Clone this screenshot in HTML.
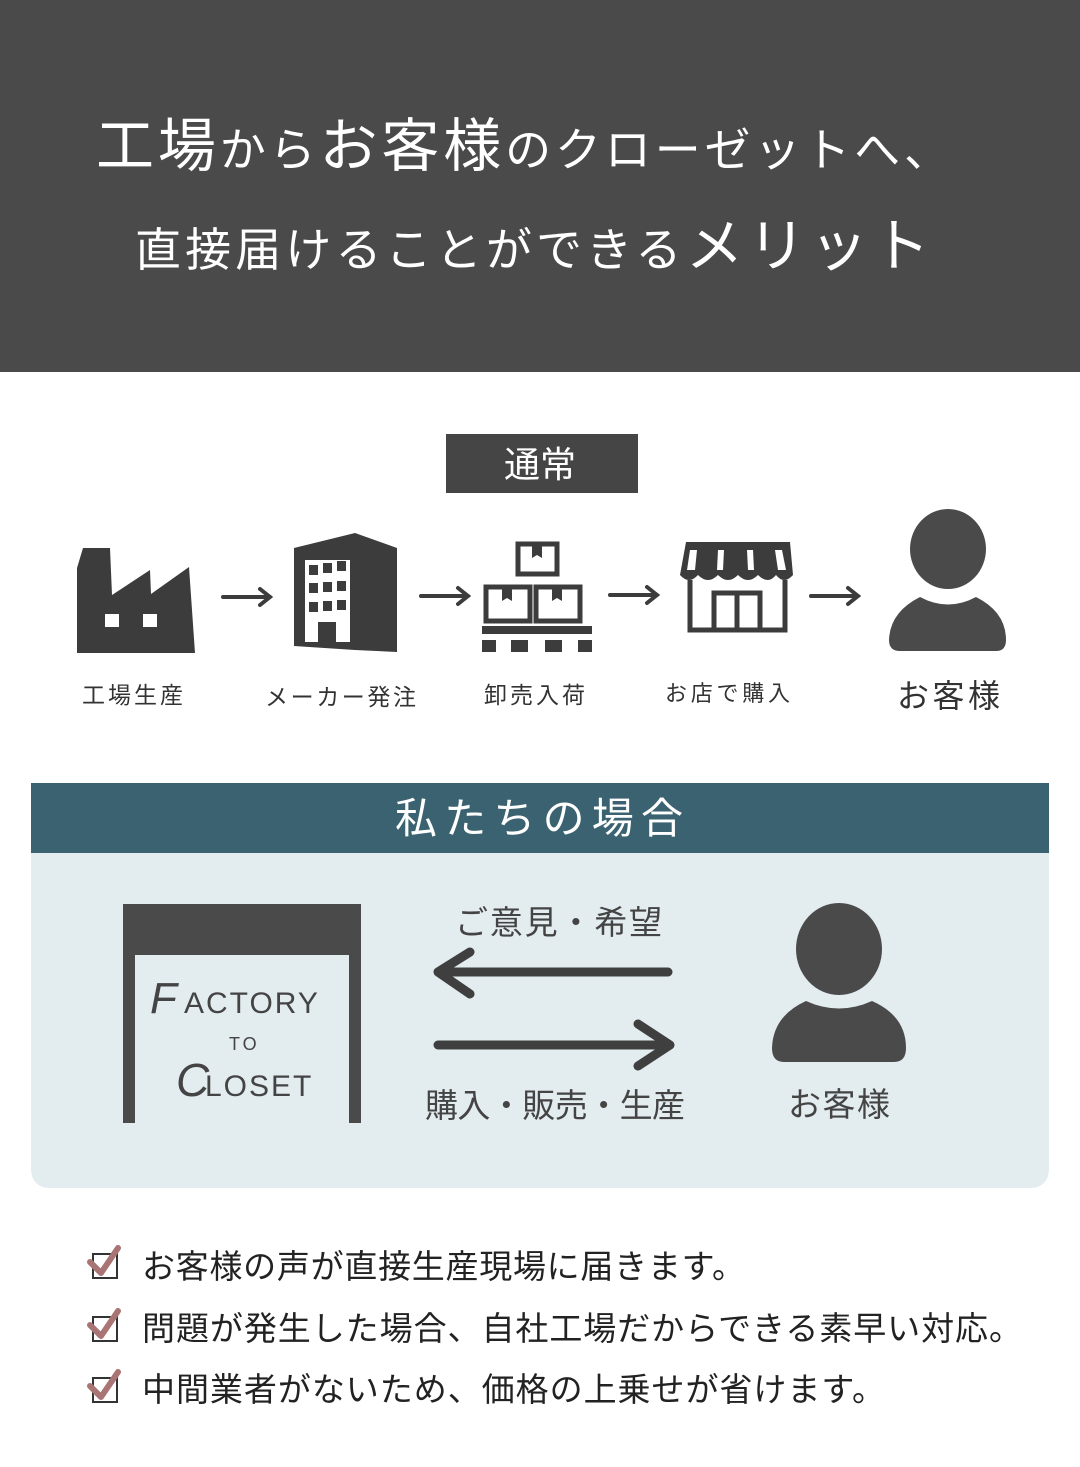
<!DOCTYPE html>
<html><head><meta charset="utf-8"><style>
html,body{margin:0;padding:0;background:#fff}
svg{display:block}
text{font-family:"Liberation Sans","Noto Sans CJK JP",sans-serif}
</style></head><body>
<svg width="1080" height="1467" viewBox="0 0 1080 1467" xmlns="http://www.w3.org/2000/svg">
<rect x="0" y="0" width="1080" height="372" fill="#4a4a4a"/>
<text x="96" y="166" fill="#fff" font-size="46" textLength="854" lengthAdjust="spacing"><tspan font-size="58">工場</tspan>から<tspan font-size="58">お客様</tspan>のクローゼットへ、</text>
<text x="135" y="266" fill="#fff" font-size="46" textLength="795" lengthAdjust="spacing">直接届けることができる<tspan font-size="58">メリット</tspan></text>

<rect x="446" y="434" width="192" height="59" fill="#454545"/>
<text x="540" y="477" fill="#fff" font-size="36" text-anchor="middle">通常</text>

<path d="M77 653 L77 568 L83 548 L110 548 L112 595 L150 570 L151 594 L189 567 L195 653 Z" fill="#3c3c3c"/>
<rect x="105" y="614" width="14" height="13" fill="#fff"/><rect x="143" y="614" width="14" height="13" fill="#fff"/>
<path d="M294 548 L355 533 L397 548 L397 652 L355 650 L294 646 Z" fill="#3c3c3c"/>
<rect x="305" y="560" width="45" height="82" fill="#fff"/>
<g fill="#3c3c3c"><rect x="309" y="565" width="9" height="10"/><rect x="323" y="563" width="9" height="10"/><rect x="337" y="561" width="9" height="10"/>
<rect x="309" y="583" width="9" height="10"/><rect x="323" y="582" width="9" height="10"/><rect x="337" y="581" width="9" height="10"/>
<rect x="309" y="602" width="9" height="10"/><rect x="323" y="601" width="9" height="10"/><rect x="337" y="600" width="9" height="10"/>
<rect x="318" y="622" width="18" height="22"/></g>
<g fill="none" stroke="#3c3c3c" stroke-width="5">
<rect x="518" y="544" width="39" height="30"/><rect x="486" y="587" width="44" height="34"/><rect x="536" y="587" width="44" height="34"/></g>
<g fill="#3c3c3c"><path d="M532 544h10v14l-5-3-5 3z"/><path d="M502 587h10v14l-5-3-5 3z"/><path d="M552 587h10v14l-5-3-5 3z"/>
<rect x="482" y="626" width="110" height="8"/><rect x="482" y="640" width="14" height="12"/><rect x="511" y="640" width="17" height="12"/><rect x="545" y="640" width="17" height="12"/><rect x="578" y="640" width="14" height="12"/></g>
<g fill="#3c3c3c"><path d="M686 542 L790 542 L793 575 Q784 585 776 575 Q768 585 758 575 Q748 585 738 575 Q728 585 718 575 Q708 585 698 575 Q689 585 680 575 Z"/></g>
<g fill="#fff"><path d="M690 550h7l-2 20h-8z"/><path d="M718 550h6l-1 20h-6z"/><path d="M747 550h6l1 20h-6z"/><path d="M775 550h7l4 20h-8z"/></g>
<g fill="none" stroke="#3c3c3c" stroke-width="5"><path d="M690 580 V630 H785 V580"/><rect x="714" y="593" width="46" height="37"/><path d="M737 593 V630"/></g>
<g fill="#4a4a4a"><ellipse cx="948" cy="549" rx="38" ry="40"/>
<path d="M920 597 Q948 612 976 597 Q1006 612 1006 640 Q1006 651 996 651 L900 651 Q889 651 889 640 Q890 612 920 597 Z"/></g>
<g stroke="#3c3c3c" stroke-width="4" fill="none" stroke-linecap="round">
<path d="M223 597 H270 M260 589 L270 597 L260 605"/>
<path d="M421 596 H468 M458 588 L468 596 L458 604"/>
<path d="M610 595 H657 M647 587 L657 595 L647 603"/>
<path d="M811 596 H858 M848 588 L858 596 L848 604"/></g>
<g fill="#333" font-size="23">
<text x="82" y="703" textLength="101" lengthAdjust="spacing">工場生産</text>
<text x="265" y="705" textLength="151" lengthAdjust="spacing">メーカー発注</text>
<text x="484" y="703" textLength="101" lengthAdjust="spacing">卸売入荷</text>
<text x="665" y="701" font-size="22" textLength="125" lengthAdjust="spacing">お店で購入</text>
<text x="897" y="707" font-size="32" textLength="103" lengthAdjust="spacing">お客様</text></g>

<path d="M31 853 H1049 V1168 Q1049 1188 1029 1188 H51 Q31 1188 31 1168 Z" fill="#e3ecef"/>
<rect x="31" y="783" width="1018" height="70" fill="#3b6270"/>
<text x="395" y="833" fill="#fff" font-size="42" textLength="288" lengthAdjust="spacing">私たちの場合</text>
<g fill="#4a4a4a"><rect x="123" y="904" width="238" height="51"/><rect x="123" y="904" width="12" height="219"/><rect x="349" y="904" width="12" height="219"/></g>
<g fill="#444" font-family="Liberation Serif, serif">
<text x="150" y="1013" font-size="44" font-style="italic">F</text><text x="184" y="1013" font-size="30" font-family="Liberation Sans" letter-spacing="2">ACTORY</text>
<text x="229" y="1050" font-size="18" font-family="Liberation Sans" letter-spacing="3">TO</text>
<text x="176" y="1096" font-size="46" font-style="italic">C</text><text x="205" y="1096" font-size="30" font-family="Liberation Sans" letter-spacing="2">LOSET</text></g>
<g stroke="#3f3f3f" stroke-width="9" fill="none" stroke-linecap="round" stroke-linejoin="round">
<path d="M668 972 H440 M470 952 L438 972 L470 994"/>
<path d="M438 1045 H668 M638 1024 L670 1045 L638 1066"/></g>
<g fill="#444" font-size="33">
<text x="455" y="934" textLength="207" lengthAdjust="spacing">ご意見・希望</text>
<text x="425" y="1117" textLength="260" lengthAdjust="spacing">購入・販売・生産</text>
<text x="788" y="1116" textLength="102" lengthAdjust="spacing">お客様</text></g>
<g fill="#4a4a4a"><ellipse cx="839" cy="949" rx="43" ry="46"/>
<path d="M806 1001 Q839 1016 872 1001 Q906 1016 906 1048 Q906 1062 894 1062 L784 1062 Q772 1062 772 1048 Q773 1016 806 1001 Z"/></g>

<g font-size="33" fill="#222">
<text x="142" y="1278" textLength="603" lengthAdjust="spacing">お客様の声が直接生産現場に届きます。</text>
<text x="142" y="1340" textLength="880" lengthAdjust="spacing">問題が発生した場合、自社工場だからできる素早い対応。</text>
<text x="142" y="1401" textLength="743" lengthAdjust="spacing">中間業者がないため、価格の上乗せが省けます。</text></g>
<g>
<rect x="93" y="1254" width="24" height="24" fill="none" stroke="#333" stroke-width="2"/>
<path d="M90 1262 L101 1273 L118 1248" fill="none" stroke="#a87474" stroke-width="6" stroke-linecap="round" stroke-linejoin="round"/>
<rect x="93" y="1317" width="24" height="24" fill="none" stroke="#333" stroke-width="2"/>
<path d="M90 1325 L101 1336 L118 1311" fill="none" stroke="#a87474" stroke-width="6" stroke-linecap="round" stroke-linejoin="round"/>
<rect x="93" y="1378" width="24" height="24" fill="none" stroke="#333" stroke-width="2"/>
<path d="M90 1386 L101 1397 L118 1372" fill="none" stroke="#a87474" stroke-width="6" stroke-linecap="round" stroke-linejoin="round"/></g>
</svg>
</body></html>
